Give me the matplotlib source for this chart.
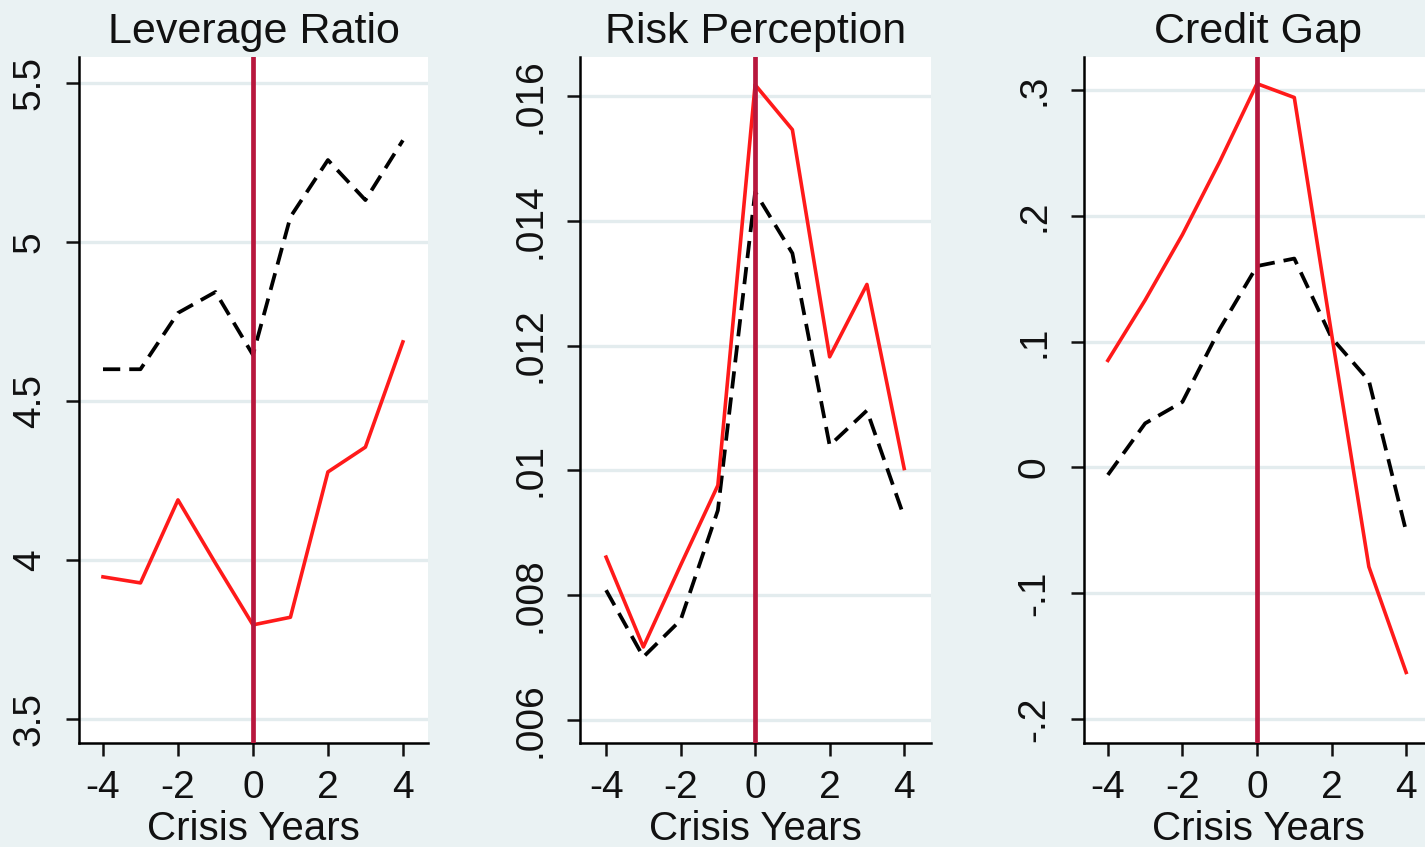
import matplotlib.pyplot as plt

# lata kryzysu
years = [-4, -3, -2, -1, 0, 1, 2, 3, 4]

titles = ['Leverage Ratio', 'Risk Perception', 'Credit Gap']

# linia czerwona (ciągła) i czarna (przerywana)
lev_red = [3.947, 3.928, 4.189, 3.99, 3.796, 3.82, 4.277, 4.355, 4.686]
lev_black = [4.60, 4.60, 4.777, 4.843, 4.645, 5.079, 5.258, 5.132, 5.32]

risk_red = [0.00861, 0.00717, 0.00848, 0.00976, 0.01618, 0.01546, 0.01182, 0.01298, 0.01003]
risk_black = [0.00808, 0.00701, 0.0076, 0.00936, 0.01446, 0.01348, 0.0104, 0.01096, 0.00925]

gap_red = [0.085, 0.133, 0.185, 0.243, 0.305, 0.294, 0.106, -0.079, -0.163]
gap_black = [-0.006, 0.035, 0.052, 0.11, 0.160, 0.166, 0.103, 0.069, -0.051]

yticks = [
    [3.5, 4, 4.5, 5, 5.5],
    [0.006, 0.008, 0.010, 0.012, 0.014, 0.016],
    [-0.2, -0.1, 0, 0.1, 0.2, 0.3],
]
ytick_labels = [
    ['3.5', '4', '4.5', '5', '5.5'],
    ['.006', '.008', '.01', '.012', '.014', '.016'],
    ['-.2', '-.1', '0', '.1', '.2', '.3'],
]
xticks = [-4, -2, 0, 2, 4]

bg = '#eaf2f3'
W, H = 1425, 847

plt.rcParams['font.family'] = ['Liberation Sans', 'DejaVu Sans']

fig = plt.figure(figsize=(W / 100, H / 100), dpi=100, facecolor=bg)

# pozycje paneli w pikselach: lewo, prawo, xlim, ylim
boxes = [
    (79, 428, (-4.64, 4.67), (3.4245, 5.582)),
    (580, 931, (-4.70, 4.72), (0.005631, 0.016625)),
    (1084, 1433, (-4.64, 4.72), (-0.2191, 0.3262)),
]
top, bottom = 57, 743
reds = [lev_red, risk_red, gap_red]
blacks = [lev_black, risk_black, gap_black]

for i in range(3):
    left, right, xl, yl = boxes[i]
    ax = fig.add_axes([left / W, 1 - bottom / H, (right - left) / W, (bottom - top) / H])
    ax.set_facecolor('white')
    for t in yticks[i]:
        ax.axhline(t, color='#e3ecee', lw=2.4, zorder=1)
    ax.plot(years, blacks[i], color='black', lw=2.7, ls=(0, (4.6, 2.4)), zorder=3)
    ax.plot(years, reds[i], color='#ff1a1a', lw=2.6, zorder=4)
    ax.axvline(0, color='#b8173d', lw=3.4, zorder=5)
    ax.set_xlim(xl)
    ax.set_ylim(yl)
    ax.set_xticks(xticks)
    ax.set_xticklabels([str(x) for x in xticks])
    ax.set_yticks(yticks[i])
    ax.set_yticklabels(ytick_labels[i], rotation=90, va='center')
    for s in ['top', 'right']:
        ax.spines[s].set_visible(False)
    for s in ['left', 'bottom']:
        ax.spines[s].set_linewidth(1.8)
    ax.tick_params(length=9.5, width=1.8, labelsize=28, colors='#111111')
    ax.tick_params(axis='x', pad=10)
    ax.tick_params(axis='y', pad=13)
    ax.set_title(titles[i], fontsize=31, pad=10, color='#111111')
    ax.set_xlabel('Crisis Years', fontsize=29, color='#111111')
    ax.xaxis.set_label_coords(0.5, -0.097)

fig.savefig('out.png', dpi=100, facecolor=bg)
